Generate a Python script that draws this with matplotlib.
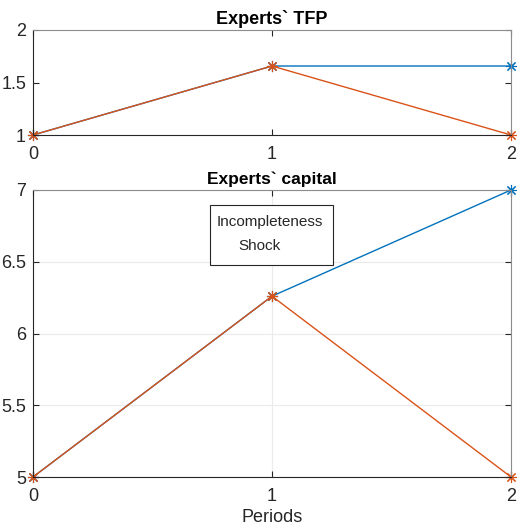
import matplotlib.pyplot as plt
from matplotlib.patches import Rectangle

plt.rcParams['font.family'] = ['Liberation Sans', 'DejaVu Sans']

periods = [0, 1, 2]
tfp_complete = [1.0, 1.657, 1.657]
tfp_shock = [1.0, 1.657, 1.0]
cap_complete = [5.0, 6.26, 7.0]
cap_shock = [5.0, 6.26, 5.0]

blue = '#0072BD'
orange = '#D95319'
star = (8, 2, 0)

fig = plt.figure(figsize=(5.17, 5.30), dpi=100)
ax1 = fig.add_axes([33 / 517, 1 - 135 / 530, 478 / 517, 105 / 530])
ax2 = fig.add_axes([33 / 517, 1 - 477 / 530, 478 / 517, 287 / 530])


def style(ax, grid):
    for s in ax.spines.values():
        s.set_color('#262626')
        s.set_linewidth(0.8)
    ax.spines['top'].set_color('#8c8c8c')
    ax.spines['right'].set_color('#8c8c8c')
    ax.tick_params(direction='in', length=4, color='#262626', labelsize=13,
                   labelcolor='#262626', top=True, right=True)
    ax.tick_params(axis='x', pad=8)
    ax.tick_params(axis='y', pad=5)
    ax.set_xlim(0, 2)
    ax.set_xticks([0, 1, 2])
    if grid:
        ax.grid(True, color='#ebebeb', linewidth=0.8)
        ax.set_axisbelow(True)


ax1.plot(periods, tfp_complete, color=blue, marker=star, lw=1, ms=8, mew=0.8, clip_on=False)
ax1.plot(periods, tfp_shock, color=orange, marker=star, lw=1, ms=8, mew=0.8, clip_on=False)
ax1.set_ylim(1, 2)
ax1.set_yticks([1, 1.5, 2])
ax1.set_yticklabels(['1', '1.5', '2'])
style(ax1, False)
ax1.set_title('Experts` TFP', fontsize=13, fontweight='bold', pad=4)

ax2.plot(periods, cap_complete, color=blue, marker=star, lw=1, ms=8, mew=0.8, clip_on=False)
ax2.plot(periods, cap_shock, color=orange, marker=star, lw=1, ms=8, mew=0.8, clip_on=False)
ax2.set_ylim(5, 7)
ax2.set_yticks([5, 5.5, 6, 6.5, 7])
ax2.set_yticklabels(['5', '5.5', '6', '6.5', '7'])
style(ax2, True)
ax2.set_title('Experts` capital', fontsize=12.5, fontweight='bold', pad=4)
ax2.set_xlabel('Periods', fontsize=13, color='#262626', labelpad=3)

# text box
ax2.add_patch(Rectangle((0.74, 6.477), 0.515, 0.418, facecolor='white',
                        edgecolor='#262626', lw=0.8, zorder=3))
ax2.text(0.77, 6.78, 'Incompleteness', fontsize=11, va='center', ha='left',
         color='#262626', zorder=4)
ax2.text(0.86, 6.61, 'Shock', fontsize=11, va='center', ha='left',
         color='#262626', zorder=4)

fig.savefig('out.png', dpi=100)
